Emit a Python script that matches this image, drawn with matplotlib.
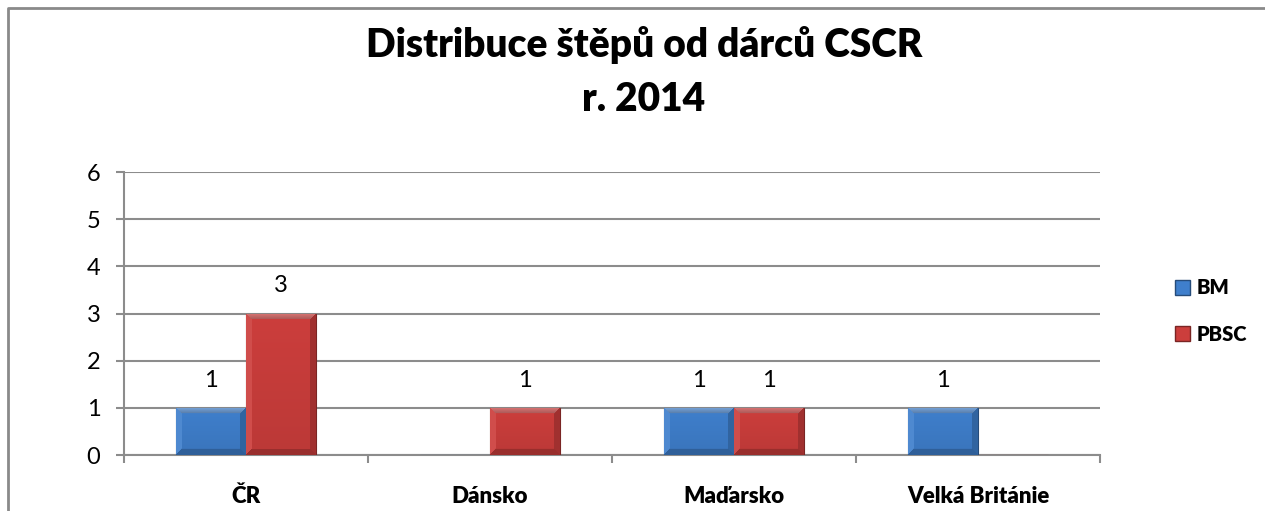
import numpy as np
import matplotlib
matplotlib.use("Agg")
import matplotlib.pyplot as plt
from matplotlib.lines import Line2D
from matplotlib.patches import Patch
import matplotlib.colors as mcolors

categories = ["ČR", "Dánsko", "Maďarsko", "Velká Británie"]
series_names = ["BM", "PBSC"]
bm_values = [1, 0, 1, 1]
pbsc_values = [3, 1, 1, 0]
title_text = "Distribuce štěpů od dárců CSCR\nr. 2014"
y_ticks = [0, 1, 2, 3, 4, 5, 6]

colors = {"BM": "#3f7fcc", "PBSC": "#cc3e3c"}

W, H = 1265, 511
plt.rcParams['font.family'] = ['Lato', 'DejaVu Sans']
fig = plt.figure(figsize=(W / 100, H / 100), dpi=100)
ax = fig.add_axes([124 / W, 1 - 455 / H, (1100 - 124) / W, (455 - 172) / H])

x = np.arange(len(categories))
bw = 1 / 3.5
grid_c = "#8c8c8c"

ax.set_xlim(-0.5, len(categories) - 0.5)
ax.set_ylim(0, 6)

def bevel_image(color, wpx, hpx, b=6):
    base = np.array(mcolors.to_rgb(color))
    wpx = max(int(round(wpx)), 1)
    hpx = max(int(round(hpx)), 1)
    img = np.zeros((hpx, wpx, 3))
    light = base + (1 - base) * 0.28
    dark = base * 0.75
    mid_l = base + (1 - base) * 0.08
    for i in range(hpx):
        for j in range(wpx):
            dt, db, dl, dr = i, hpx - 1 - i, j, wpx - 1 - j
            d = min(dt, db, dl, dr)
            if d < b:
                if d == dt:
                    c = light * (1 - 0.04 * dt)
                elif d == db:
                    c = dark
                elif d == dl:
                    c = mid_l
                else:
                    c = dark * 1.05
            else:
                t = i / max(hpx - 1, 1)
                c = base * (1 - 0.08 * t)
            img[i, j] = np.clip(c, 0, 1)
    return img

fig.canvas.draw()
for k, (name, vals) in enumerate([("BM", bm_values), ("PBSC", pbsc_values)]):
    offs = (k - 0.5) * bw
    bars = ax.bar(x + offs, vals, width=bw, color=colors[name],
                  edgecolor=np.array(mcolors.to_rgb(colors[name])) * 0.6,
                  linewidth=0.8, zorder=3)
    for rect, v in zip(bars, vals):
        if v <= 0:
            continue
        x0, y0 = rect.get_x(), rect.get_y()
        w, h = rect.get_width(), rect.get_height()
        p0 = ax.transData.transform((x0, y0))
        p1 = ax.transData.transform((x0 + w, y0 + h))
        img = bevel_image(colors[name], p1[0] - p0[0], p1[1] - p0[1])
        im = ax.imshow(img, extent=(x0, x0 + w, y0, y0 + h), aspect='auto',
                       zorder=3.5, interpolation='bilinear')
        im.set_clip_path(rect)
        ax.annotate(str(v), (x0 + w / 2, y0 + h), xytext=(0, 20),
                    textcoords='offset points', ha='center', va='center',
                    fontsize=17, color='black', zorder=5)
ax.set_xlim(-0.5, len(categories) - 0.5)
ax.set_ylim(0, 6)

ax.set_yticks(y_ticks)
ax.set_yticklabels([str(t) for t in y_ticks])
ax.yaxis.grid(True, color=grid_c, linewidth=1.5, zorder=0)
ax.set_axisbelow(True)
ax.set_xticks(x)
ax.set_xticklabels(categories, fontweight='heavy', fontsize=16)
ax.set_xticks(np.arange(len(categories) + 1) - 0.5, minor=True)
ax.tick_params(axis='x', which='major', length=0, pad=22)
ax.tick_params(axis='x', which='minor', length=6, width=1.5, color=grid_c, direction='out')
ax.tick_params(axis='y', length=6, width=1.5, color=grid_c, direction='out', labelsize=17, pad=11)
for s in ['top', 'right']:
    ax.spines[s].set_visible(False)
for s in ['left', 'bottom']:
    ax.spines[s].set_color(grid_c)
    ax.spines[s].set_linewidth(1.5)

fig.text(644 / W, 1 - 72 / H, title_text, ha='center', va='center',
         fontsize=28, fontweight='heavy', linespacing=1.55)

handles = [Patch(facecolor=colors[n], edgecolor=np.array(mcolors.to_rgb(colors[n])) * 0.6) for n in series_names]
leg = fig.legend(handles, series_names, loc='center left',
                 bbox_to_anchor=(1157 / W, 1 - 311 / H), frameon=False,
                 prop={'weight': 'heavy', 'size': 14.5}, handlelength=0.75,
                 handleheight=0.75, handletextpad=0.3, labelspacing=1.35)

fig.add_artist(Line2D([8 / W, 8 / W, 1.0], [0.0, 1 - 8 / H, 1 - 8 / H],
                      transform=fig.transFigure, color="#8a8a8a", linewidth=2))

fig.savefig("out.png", dpi=100, facecolor='white')
